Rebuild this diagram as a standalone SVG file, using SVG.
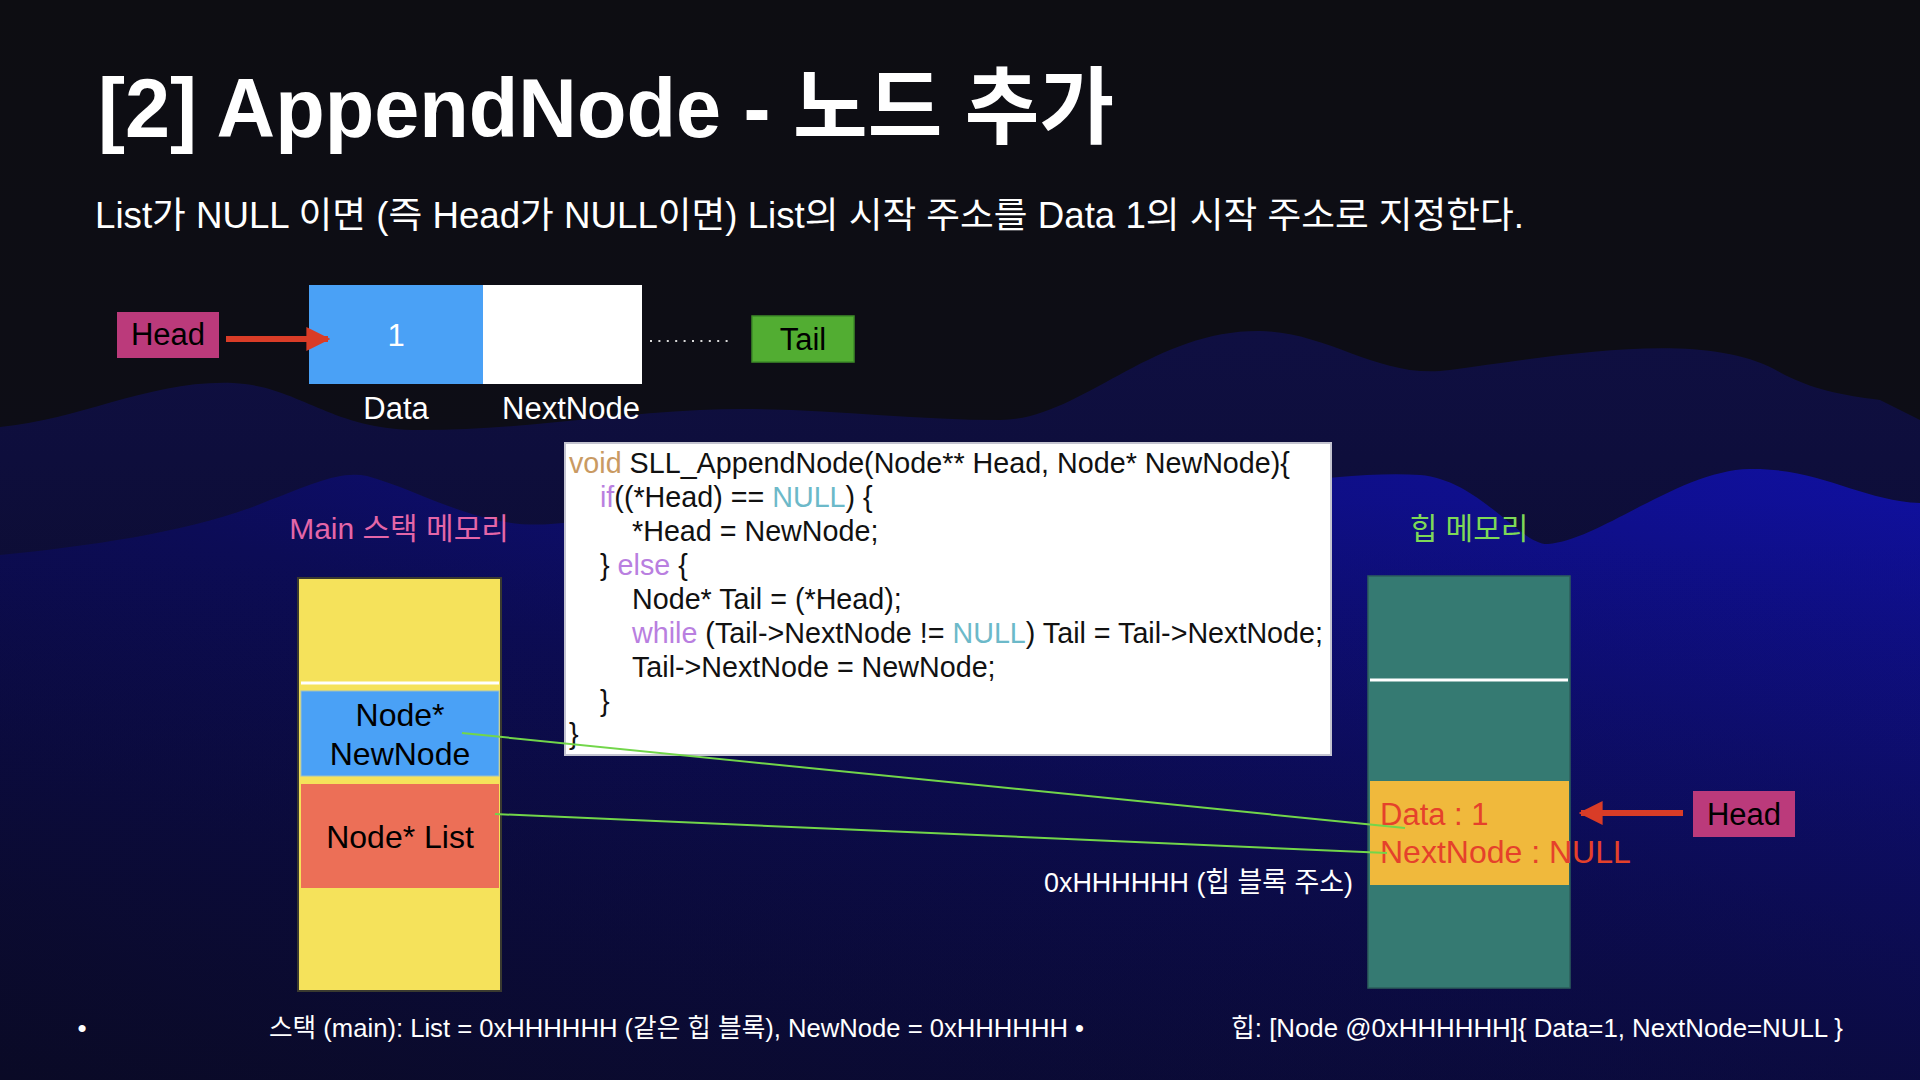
<svg xmlns="http://www.w3.org/2000/svg" width="1920" height="1080" viewBox="0 0 1920 1080">
<defs>
<style>
text{font-family:'Liberation Sans','Noto Sans CJK KR',sans-serif}
.w{fill:#ffffff}
.k{fill:#000000}
.lbl{font-size:31px}
.code{font-size:28.7px;fill:#111111}
.kw{fill:#b97fe0}
.ty{fill:#c99a62}
.nl{fill:#6cb9c9}
.conn{stroke:#72d64a;stroke-width:2;fill:none}
</style>
<linearGradient id="bg" x1="0" y1="0" x2="0" y2="1">
<stop offset="0" stop-color="#0d0d12"/>
<stop offset="0.4" stop-color="#0d0d16"/>
<stop offset="1" stop-color="#0b0b2c"/>
</linearGradient>
<linearGradient id="back" x1="0" y1="0" x2="0" y2="1">
<stop offset="0" stop-color="#0f0f42"/>
<stop offset="0.5" stop-color="#0c0c30"/>
<stop offset="1" stop-color="#0a0a26"/>
</linearGradient>
<linearGradient id="front" x1="0" y1="1" x2="1" y2="0">
<stop offset="0" stop-color="#0a0a2a"/>
<stop offset="0.5" stop-color="#0c0c58"/>
<stop offset="1" stop-color="#1010a0"/>
</linearGradient>
<linearGradient id="fade" x1="0" y1="0" x2="0" y2="1">
<stop offset="0" stop-color="#0a0a20" stop-opacity="0"/>
<stop offset="1" stop-color="#0a0a20" stop-opacity="0.4"/>
</linearGradient>
<marker id="ah" viewBox="0 0 10 10" refX="9" refY="5" markerWidth="4" markerHeight="4" orient="auto" markerUnits="strokeWidth">
<path d="M0,0 L10,5 L0,10 Z" fill="#d93c27"/>
</marker>
</defs>

<g id="background">
<rect x="0" y="0" width="1920" height="1080" fill="url(#bg)"/>
<path d="M0,427 C80,420 150,380 233,383 C300,386 330,430 420,430 C520,430 600,415 700,410 C800,405 900,420 1000,420 C1080,420 1150,330 1260,331 C1330,332 1380,380 1450,370 C1560,355 1700,330 1774,369 C1810,390 1842,395 1880,400 L1920,420 L1920,1080 L0,1080 Z" fill="url(#back)"/>
<path d="M0,555 C100,545 200,530 270,500 C310,485 340,470 367,476 C420,490 480,530 551,524 C650,515 750,520 850,530 C950,540 1050,500 1150,495 C1250,490 1350,470 1420,475 C1480,480 1520,545 1548,544 C1600,540 1680,470 1750,469 C1820,468 1860,500 1920,503 L1920,1080 L0,1080 Z" fill="url(#front)"/>
<rect x="0" y="500" width="1920" height="580" fill="url(#fade)"/>
</g>

<g id="title">
<text x="98" y="137" class="w" font-size="84" font-weight="bold" textLength="1016" lengthAdjust="spacingAndGlyphs">[2] AppendNode - 노드 추가</text>
<text x="95" y="228" class="w" font-size="36" textLength="1429" lengthAdjust="spacingAndGlyphs">List가 NULL 이면 (즉 Head가 NULL이면) List의 시작 주소를 Data 1의 시작 주소로 지정한다.</text>
</g>

<g id="head-top">
<rect x="117" y="312" width="102" height="46" fill="#bb3a7b"/>
<text x="168" y="345" class="k lbl" text-anchor="middle">Head</text>
</g>

<g id="node-data">
<rect x="309" y="285" width="174" height="99" fill="#4aa1f6"/>
<text x="396" y="346" class="w lbl" text-anchor="middle">1</text>
<text x="396" y="419" class="w lbl" text-anchor="middle">Data</text>
</g>

<g id="node-next">
<rect x="483" y="285" width="159" height="99" fill="#ffffff"/>
<text x="571" y="419" class="w lbl" text-anchor="middle">NextNode</text>
</g>

<g id="tail-top">
<rect x="752" y="316" width="102" height="46" fill="#52ad32" stroke="#3e8c28" stroke-width="1.5"/>
<text x="803" y="350" class="k lbl" text-anchor="middle">Tail</text>
</g>

<g id="code">
<rect x="565" y="443" width="766" height="312" fill="#ffffff" stroke="#c4c4d0" stroke-width="2"/>
<text x="569" y="473" class="code"><tspan class="ty">void</tspan> SLL_AppendNode(Node** Head, Node* NewNode){</text>
<text x="600" y="507" class="code"><tspan class="kw">if</tspan>((*Head) == <tspan class="nl">NULL</tspan>) {</text>
<text x="632" y="541" class="code">*Head = NewNode;</text>
<text x="600" y="575" class="code">} <tspan class="kw">else</tspan> {</text>
<text x="632" y="609" class="code">Node* Tail = (*Head);</text>
<text x="632" y="643" class="code"><tspan class="kw">while</tspan> (Tail-&gt;NextNode != <tspan class="nl">NULL</tspan>) Tail = Tail-&gt;NextNode;</text>
<text x="632" y="677" class="code">Tail-&gt;NextNode = NewNode;</text>
<text x="600" y="711" class="code">}</text>
<text x="569" y="744" class="code">}</text>
</g>

<g id="stack">
<text x="399" y="539" font-size="30" fill="#e466a8" text-anchor="middle">Main 스택 메모리</text>
<rect x="298" y="578" width="203" height="413" fill="#f5e25b" stroke="#3a3a30" stroke-width="2"/>
<line x1="301" y1="683" x2="499" y2="683" stroke="#ffffff" stroke-width="3"/>
</g>

<g id="stack-newnode">
<rect x="301" y="691" width="198" height="85" fill="#4aa1f6" stroke="#9cc0c8" stroke-width="1"/>
<text x="400" y="726" class="k" font-size="32" text-anchor="middle">Node*</text>
<text x="400" y="765" class="k" font-size="32" text-anchor="middle">NewNode</text>
</g>

<g id="stack-list">
<rect x="301" y="784" width="198" height="104" fill="#ec6f57"/>
<text x="400" y="848" class="k" font-size="32" text-anchor="middle">Node* List</text>
</g>

<g id="heap">
<text x="1469" y="539" font-size="30" fill="#7ed957" text-anchor="middle">힙 메모리</text>
<rect x="1368" y="576" width="202" height="412" fill="#357a72" stroke="#2c5f5c" stroke-width="1.5"/>
<line x1="1370" y1="680" x2="1568" y2="680" stroke="#ffffff" stroke-width="3"/>
</g>

<g id="heap-block">
<rect x="1370" y="781" width="199" height="104" fill="#f0b93c"/>
<text x="1380" y="825" font-size="31" fill="#e5412b">Data : 1</text>
<text x="1380" y="863" font-size="32" fill="#e5412b">NextNode : NULL</text>
<text x="1044" y="892" class="w" font-size="28" textLength="309" lengthAdjust="spacingAndGlyphs">0xHHHHHH (힙 블록 주소)</text>
</g>

<g id="head-right">
<rect x="1693" y="791" width="102" height="46" fill="#bb3a7b"/>
<text x="1744" y="825" class="k lbl" text-anchor="middle">Head</text>
</g>

<g id="connectors">
<line x1="226" y1="339" x2="328" y2="339" stroke="#d93c27" stroke-width="6" marker-end="url(#ah)"/>
<line x1="1683" y1="813" x2="1581" y2="813" stroke="#d93c27" stroke-width="6" marker-end="url(#ah)"/>
<line x1="650" y1="341" x2="734" y2="341" stroke="#d8d8d8" stroke-width="2.2" stroke-dasharray="2 6.4"/>
<line class="conn" x1="462" y1="733" x2="1405" y2="828"/>
<line class="conn" x1="495" y1="814" x2="1387" y2="853"/>
</g>

<g id="footer">
<text x="82" y="1037" class="w" font-size="26" text-anchor="middle">•</text>
<text x="269" y="1037" class="w" font-size="26" textLength="815" lengthAdjust="spacingAndGlyphs">스택 (main): List = 0xHHHHHH (같은 힙 블록), NewNode = 0xHHHHHH •</text>
<text x="1231" y="1037" class="w" font-size="26" textLength="612" lengthAdjust="spacingAndGlyphs">힙: [Node @0xHHHHHH]{ Data=1, NextNode=NULL }</text>
</g>
</svg>
